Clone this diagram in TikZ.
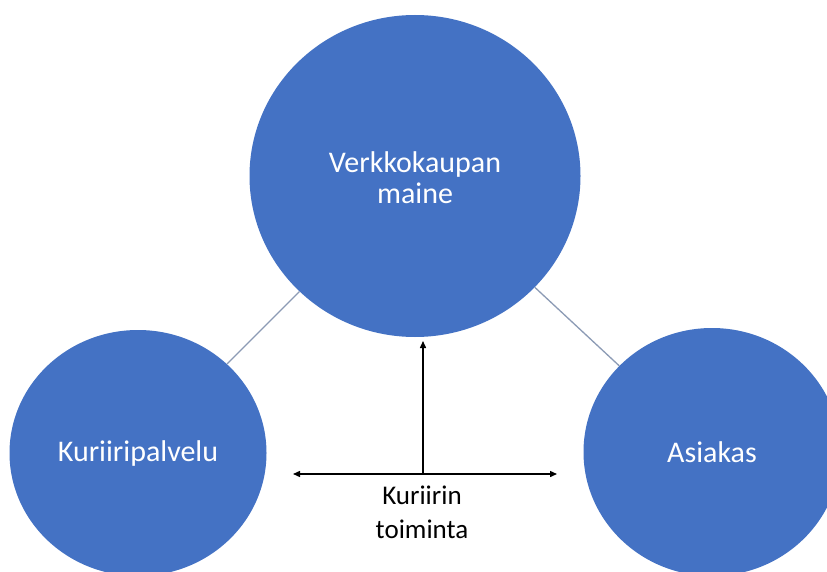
\documentclass[tikz,border=0pt]{standalone}
\usepackage{fontspec}
\setmainfont{Carlito}
\usetikzlibrary{arrows.meta,shapes.geometric}
\definecolor{circblue}{HTML}{4472C4}
\definecolor{linkgray}{HTML}{8C9BB5}
\tikzset{
  bubble/.style={ellipse, fill=circblue, draw=none, inner sep=0pt, text=white, align=center, font=\fontsize{30}{31}\selectfont},
  link/.style={draw=linkgray, line width=1.3pt},
  flow/.style={draw=black, line width=1.4pt, -{Triangle[length=7pt,width=6pt]}},
}
\begin{document}
\begin{tikzpicture}[x=1pt,y=-1pt]
\useasboundingbox (0,0) rectangle (827,572);
\clip (0,0) rectangle (827,572);
\fill[white] (0,0) rectangle (827,572);
\node[bubble, minimum width=331pt, minimum height=322pt] (top) at (415,176) {};
\node[font=\fontsize{30}{31}\selectfont, text=white, align=center] (toplabel) at (415,178) {Verkkokaupan\\maine};
\node[bubble, minimum width=257pt, minimum height=246pt] (left) at (138,453) {Kuriiripalvelu};
\node[bubble, minimum width=257pt, minimum height=248pt] (right) at (712,452) {Asiakas};
\draw[link] (left) -- (top);
\draw[link] (right) -- (top);
\coordinate (mid) at (423,474);
\coordinate (hl) at (293,474);
\coordinate (hr) at (557,474);
\coordinate (vt) at (423,341);
\draw[flow] (mid) -- (hl);
\draw[flow] (mid) -- (hr);
\draw[flow] (mid) -- (vt);
\node[font=\fontsize{27}{34}\selectfont, text=black, align=center, anchor=north] (lbl) at (422,482) {Kuriirin\\toiminta};
\end{tikzpicture}
\end{document}
